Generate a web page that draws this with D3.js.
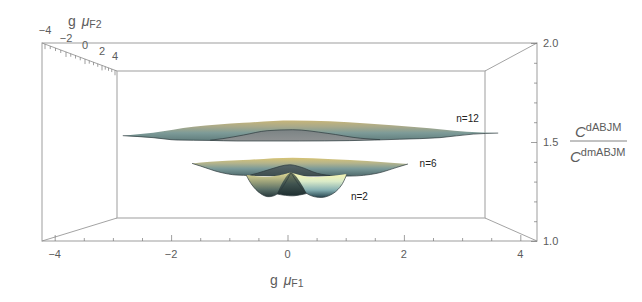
<!DOCTYPE html>
<html>
<head>
<meta charset="utf-8">
<script src="https://cdn.jsdelivr.net/npm/d3@7"></script>
<style>
  html, body { margin: 0; padding: 0; background: #fff; }
  text { font-family: "Liberation Sans", Arial, sans-serif; fill: #5c5c5c; }
</style>
</head>
<body>
<svg id="chart" width="642" height="302"></svg>
<script>
// tick labels
var xMajor = [-4, -2, 0, 2, 4];
var xTicks = [-4, -3.5, -3, -2.5, -2, -1.5, -1, -0.5, 0, 0.5, 1, 1.5, 2, 2.5, 3, 3.5, 4];
var zMajor = [1.0, 1.5, 2.0];
var zTicks = [1.0, 1.1, 1.2, 1.3, 1.4, 1.5, 1.6, 1.7, 1.8, 1.9, 2.0];
var depthLabels = [-4, -2, 0, 2, 4];
var depthTicks = [-4, -3.5, -3, -2.5, -2, -1.5, -1, -0.5, 0, 0.5, 1, 1.5, 2, 2.5, 3, 3.5, 4];

// n=12 surface, read as [g muF1, ratio]
var n12Top = [[-2.83, 1.532], [-2.31, 1.547], [-1.62, 1.577], [-0.76, 1.597], [0.09, 1.608], [1.37, 1.594], [2.23, 1.574], [3.08, 1.552], [3.62, 1.545]];
var n12Low = [[-2.83, 1.532], [-2.31, 1.522], [-1.90, 1.510], [-1.33, 1.508], [-0.87, 1.505], [0.21, 1.505], [1.07, 1.507], [1.93, 1.514], [2.62, 1.522], [3.19, 1.540], [3.62, 1.545]];
var n12Hump = [[-1.33, 1.509], [-1.11, 1.517], [-0.76, 1.535], [-0.35, 1.557], [0.09, 1.562], [0.68, 1.544], [1.25, 1.519], [1.59, 1.512]];
var n12Under = [[-1.33, 1.509], [-0.87, 1.505], [0.21, 1.505], [1.07, 1.507], [1.59, 1.512]];

// n=6 surface
var n6Top = [[-1.64, 1.392], [-1.33, 1.400], [-0.76, 1.409], [0.09, 1.421], [0.78, 1.413], [1.37, 1.404], [2.07, 1.389]];
var n6Low = [[-1.64, 1.392], [-1.50, 1.379], [-1.16, 1.347], [-0.87, 1.333], [-0.64, 1.331], [0.21, 1.328], [1.07, 1.328], [1.54, 1.342], [1.88, 1.372], [2.07, 1.389]];
var n6Hump = [[-0.64, 1.333], [-0.52, 1.342], [-0.30, 1.362], [0.04, 1.385], [0.21, 1.375], [0.51, 1.342], [0.82, 1.328]];
var n6Under = [[-0.64, 1.331], [0.21, 1.328], [0.82, 1.328]];

// n=2 surface, three lobes
var n2LeftTop = [[-0.71, 1.333], [-0.30, 1.325], [0.06, 1.346]];
var n2LeftLow = [[-0.71, 1.333], [-0.61, 1.283], [-0.47, 1.241], [-0.34, 1.224], [-0.18, 1.237], [0.06, 1.346]];
var n2MidTop = [[-0.18, 1.237], [0.06, 1.346], [0.33, 1.240]];
var n2MidLow = [[-0.18, 1.237], [0.09, 1.228], [0.33, 1.240]];
var n2RightTop = [[0.06, 1.346], [0.39, 1.323], [1.02, 1.338]];
var n2RightLow = [[0.06, 1.346], [0.33, 1.240], [0.59, 1.220], [0.79, 1.241], [0.93, 1.283], [1.02, 1.338]];

var surfaceLabels = [["n=12", 2.9, 1.6], ["n=6", 2.27, 1.375], ["n=2", 1.09, 1.205]];

var frame = {left: 42, right: 537, top: 43, bottom: 241};
var inner = {left: 117, right: 485, top: 71, bottom: 218};
var frameColor = "#aeaeae", edgeColor = "#8c8c8c", tickColor = "#777";

var svg = d3.select("#chart");

var x = d3.scaleLinear().domain([-4, 4]).range([54.7, 520.3]);
var z = d3.scaleLinear().domain([1, 2]).range([frame.bottom, frame.top]);
// depth axis runs along the top left edge, foreshortened towards the back
var depthX = d3.scaleLinear().domain([-4, -2, 0, 2, 4]).range([45, 66, 85, 102, 115]);
var depthY = d3.scaleLinear().domain([frame.left, inner.left]).range([frame.top, inner.top]);

// gradients for the shaded surfaces
var defs = svg.append("defs");
function gradient(id, stops) {
  var g = defs.append("linearGradient").attr("id", id)
    .attr("x1", 0).attr("y1", 0).attr("x2", 0).attr("y2", 1);
  stops.forEach(function(s) {
    g.append("stop").attr("offset", s[0]).attr("stop-color", s[1]);
  });
}
gradient("g12", [[0, "#c6b57a"], [0.3, "#a8a98a"], [0.6, "#7d9b98"], [1, "#5f7c7c"]]);
gradient("g12u", [[0, "#7b8384"], [1, "#8f9293"]]);
gradient("g6", [[0, "#d8c474"], [0.3, "#b4b48c"], [0.6, "#7b9a99"], [1, "#4f6a6c"]]);
gradient("g6u", [[0, "#556466"], [1, "#3f4e50"]]);
gradient("g2l", [[0, "#e3dc97"], [0.35, "#a3a77c"], [0.7, "#5b7068"], [1, "#2a3a3c"]]);
gradient("g2m", [[0, "#77805f"], [0.5, "#3f524f"], [1, "#1e2e30"]]);
gradient("g2r", [[0, "#fbf6ad"], [0.35, "#dcecc9"], [0.7, "#86b0b2"], [1, "#27454f"]]);

// frame, back box and the four connecting edges
svg.append("rect")
  .attr("x", frame.left).attr("y", frame.top)
  .attr("width", frame.right - frame.left).attr("height", frame.bottom - frame.top)
  .attr("fill", "none").attr("stroke", frameColor).attr("stroke-width", 1.2);
svg.append("rect")
  .attr("x", inner.left).attr("y", inner.top)
  .attr("width", inner.right - inner.left).attr("height", inner.bottom - inner.top)
  .attr("fill", "none").attr("stroke", frameColor).attr("stroke-width", 1.2);
[[frame.left, frame.top, inner.left, inner.top],
 [frame.left, frame.bottom, inner.left, inner.bottom],
 [frame.right, frame.top, inner.right, inner.top],
 [frame.right, frame.bottom, inner.right, inner.bottom]].forEach(function(e) {
  svg.append("line")
    .attr("x1", e[0]).attr("y1", e[1]).attr("x2", e[2]).attr("y2", e[3])
    .attr("stroke", edgeColor).attr("stroke-width", 0.8);
});

// bottom axis
var xAxis = d3.axisTop(x).tickValues(xTicks).tickFormat("").tickSize(0);
var xg = svg.append("g").attr("transform", "translate(0," + frame.bottom + ")").call(xAxis);
xg.select(".domain").remove();
xg.selectAll(".tick line")
  .attr("y2", function(d) { return xMajor.indexOf(d) >= 0 ? -6 : -3; })
  .attr("stroke", tickColor).attr("stroke-width", 0.7);
svg.append("g").selectAll("text").data(xMajor).enter().append("text")
  .attr("x", function(d) { return x(d); })
  .attr("y", 258)
  .attr("text-anchor", "middle")
  .attr("font-size", 11)
  .text(function(d) { return String(d).replace("-", "\u2212"); });

// right axis
var zAxis = d3.axisLeft(z).tickValues(zTicks).tickFormat("").tickSize(0);
var zg = svg.append("g").attr("transform", "translate(" + frame.right + ",0)").call(zAxis);
zg.select(".domain").remove();
zg.selectAll(".tick line")
  .attr("x2", function(d) { return zMajor.indexOf(d) >= 0 ? -6 : -3; })
  .attr("stroke", tickColor).attr("stroke-width", 0.7);
svg.append("g").selectAll("text").data(zMajor).enter().append("text")
  .attr("x", 543)
  .attr("y", function(d) { return z(d) + 4; })
  .attr("font-size", 11)
  .text(function(d) { return d.toFixed(1); });

// depth axis
svg.append("g").selectAll("line").data(depthTicks).enter().append("line")
  .attr("x1", function(d) { return depthX(d); })
  .attr("x2", function(d) { return depthX(d); })
  .attr("y1", function(d) { return depthY(depthX(d)); })
  .attr("y2", function(d) { return depthY(depthX(d)) + (depthLabels.indexOf(d) >= 0 ? 5 : 3); })
  .attr("stroke", tickColor).attr("stroke-width", 0.7);
svg.append("g").selectAll("text").data(depthLabels).enter().append("text")
  .attr("x", function(d) { return depthX(d); })
  .attr("y", function(d) { return depthY(depthX(d)) - 10; })
  .attr("text-anchor", "middle")
  .attr("font-size", 11)
  .text(function(d) { return String(d).replace("-", "\u2212"); });

// surfaces
var edge = d3.line()
  .x(function(d) { return x(d[0]); })
  .y(function(d) { return z(d[1]); })
  .curve(d3.curveMonotoneX);
var edgeFree = d3.line()
  .x(function(d) { return x(d[0]); })
  .y(function(d) { return z(d[1]); })
  .curve(d3.curveCatmullRom.alpha(0.5));

function patch(top, low, fill, line) {
  var gen = line || edge;
  var back = low.slice().reverse();
  svg.append("path")
    .attr("d", gen(top) + gen(back).replace("M", "L") + "Z")
    .attr("fill", "url(#" + fill + ")");
}
function stroke(points, line, w) {
  svg.append("path")
    .attr("d", (line || edge)(points))
    .attr("fill", "none")
    .attr("stroke", "#2c3a3c")
    .attr("stroke-width", w || 0.7);
}

patch(n12Top, n12Low, "g12");
patch(n12Hump, n12Under, "g12u");
stroke(n12Low);
stroke(n12Hump);

patch(n6Top, n6Low, "g6");
patch(n6Hump, n6Under, "g6u");
stroke(n6Low);
stroke(n6Hump);

patch(n2LeftTop, n2LeftLow, "g2l", edgeFree);
patch(n2RightTop, n2RightLow, "g2r", edgeFree);
patch(n2MidTop, n2MidLow, "g2m", edgeFree);
stroke(n2LeftLow, edgeFree);
stroke(n2RightLow, edgeFree);
stroke(n2MidLow, edgeFree);

svg.append("g").selectAll("text").data(surfaceLabels).enter().append("text")
  .attr("x", function(d) { return x(d[1]); })
  .attr("y", function(d) { return z(d[2]); })
  .attr("font-size", 10)
  .style("fill", "#222")
  .text(function(d) { return d[0]; });

// axis titles
function muTitle(px, py, sub) {
  var t = svg.append("text").attr("x", px).attr("y", py).attr("font-size", 14);
  t.append("tspan").text("g ");
  t.append("tspan").attr("dx", 2).attr("font-style", "italic").text("\u03BC");
  t.append("tspan").attr("font-size", 10.5).attr("dy", 2).text(sub);
}
muTitle(270, 285, "F1");
muTitle(68, 25.5, "F2");

// ratio label
svg.append("line")
  .attr("x1", 570).attr("x2", 627).attr("y1", 141).attr("y2", 141)
  .attr("stroke", "#666").attr("stroke-width", 0.8);
var num = svg.append("text").attr("x", 575).attr("y", 136.5);
num.append("tspan").attr("font-style", "italic").attr("font-size", 15).text("C");
num.append("tspan").attr("font-size", 11).attr("dy", -6).text("dABJM");
var den = svg.append("text").attr("x", 570).attr("y", 162);
den.append("tspan").attr("font-style", "italic").attr("font-size", 15).text("C");
den.append("tspan").attr("font-size", 11).attr("dy", -6).text("dmABJM");
</script>
</body>
</html>
